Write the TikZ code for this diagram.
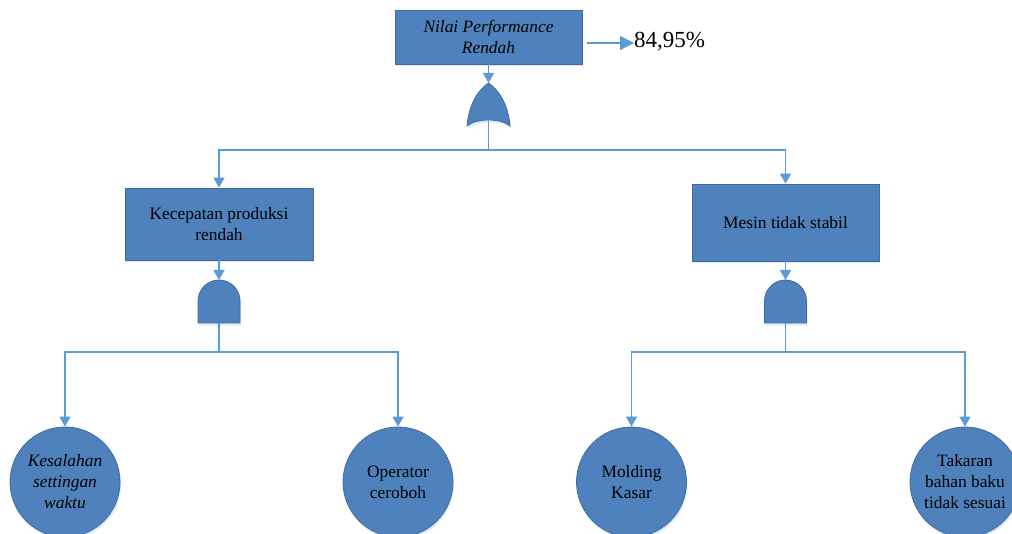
\documentclass[tikz,border=0pt]{standalone}
\usepackage{fontspec}
\setmainfont{Liberation Serif}
\usetikzlibrary{arrows.meta,shadows}
\definecolor{boxfill}{RGB}{79,130,189}
\definecolor{boxline}{RGB}{62,108,158}
\definecolor{connc}{RGB}{91,155,213}
\definecolor{shad}{RGB}{190,210,235}
\begin{document}
\begin{tikzpicture}[x=1pt,y=-1pt,
  txt/.style={font=\fontsize{17.4}{21}\selectfont, text=black},
  evt/.style={txt, draw=boxline, line width=0.8pt, fill=boxfill, inner sep=2pt, align=center,
    drop shadow={shadow xshift=1pt, shadow yshift=-2.5pt, opacity=0.5, fill=shad}},
  basic/.style={txt, circle, draw=boxline, line width=0.8pt, fill=boxfill, minimum size=110pt, inner sep=0pt, align=center,
    drop shadow={shadow xshift=1pt, shadow yshift=-2.5pt, opacity=0.5, fill=shad}},
  conn/.style={draw=connc, line width=1.5pt},
  arr/.style={conn, -{Triangle[length=10pt,width=11pt]}},
  bigarr/.style={conn, -{Triangle[length=14pt,width=14pt]}},
  gate/.style={draw=boxline, fill=boxfill, line width=0.8pt,
    drop shadow={shadow xshift=1pt, shadow yshift=-2.5pt, opacity=0.5, fill=shad}}]
\useasboundingbox (0,0) rectangle (1012,534);

% top event
\node[evt, minimum width=187pt, minimum height=54pt] (top) at (488.5,37) {\textit{Nilai Performance}\\\textit{Rendah}};
\node[anchor=west, font=\fontsize{23}{26}\selectfont, inner sep=0pt] (val) at (634,41.5) {84,95\%};
\coordinate (valsrc) at (587,43);
\draw[bigarr] (valsrc) -- (valsrc -| val.west);

% OR gate
\coordinate (ortop) at (488.5,83);
\coordinate (orbot) at (488.5,121);
\draw[gate] (467,126) .. controls (469,104) and (478,90) .. (ortop)
  .. controls (499,90) and (508,104) .. (510,126)
  .. controls (501,118) and (476,118) .. (467,126) -- cycle;
\draw[arr] (top.south) -- (ortop);
\coordinate (bus1) at (488.5,150);
\draw[conn] (orbot) -- (bus1);

% intermediate events
\node[evt, minimum width=188pt, minimum height=72pt] (k) at (219,224) {Kecepatan produksi\\rendah};
\node[evt, minimum width=187pt, minimum height=77pt] (m) at (785.5,222.5) {Mesin tidak stabil};
\draw[arr] (bus1) -| (k.north);
\draw[arr] (bus1) -| (m.north);

% AND gate left
\coordinate (a1top) at (219,280);
\coordinate (a1bot) at (219,323);
\draw[gate] (198,323) -- (198,301) arc[start angle=180, end angle=360, radius=21] -- (240,323) -- cycle;
\draw[arr] (k.south) -- (a1top);
\coordinate (bus2) at (219,352);
\draw[conn] (a1bot) -- (bus2);

% AND gate right
\coordinate (a2top) at (785.5,280);
\coordinate (a2bot) at (785.5,323);
\draw[gate] (764.5,323) -- (764.5,301) arc[start angle=180, end angle=360, radius=21] -- (806.5,323) -- cycle;
\draw[arr] (m.south) -- (a2top);
\coordinate (bus3) at (785.5,352);
\draw[conn] (a2bot) -- (bus3);

% basic events
\node[basic] (c1) at (65,482) {\itshape Kesalahan\\\itshape settingan\\\itshape waktu};
\node[basic] (c2) at (398,482) {Operator\\ceroboh};
\node[basic] (c3) at (631.5,482) {Molding\\Kasar};
\node[basic] (c4) at (965,482) {Takaran\\bahan baku\\tidak sesuai};
\draw[arr] (bus2) -| (c1.north);
\draw[arr] (bus2) -| (c2.north);
\draw[arr] (bus3) -| (c3.north);
\draw[arr] (bus3) -| (c4.north);
\end{tikzpicture}
\end{document}
